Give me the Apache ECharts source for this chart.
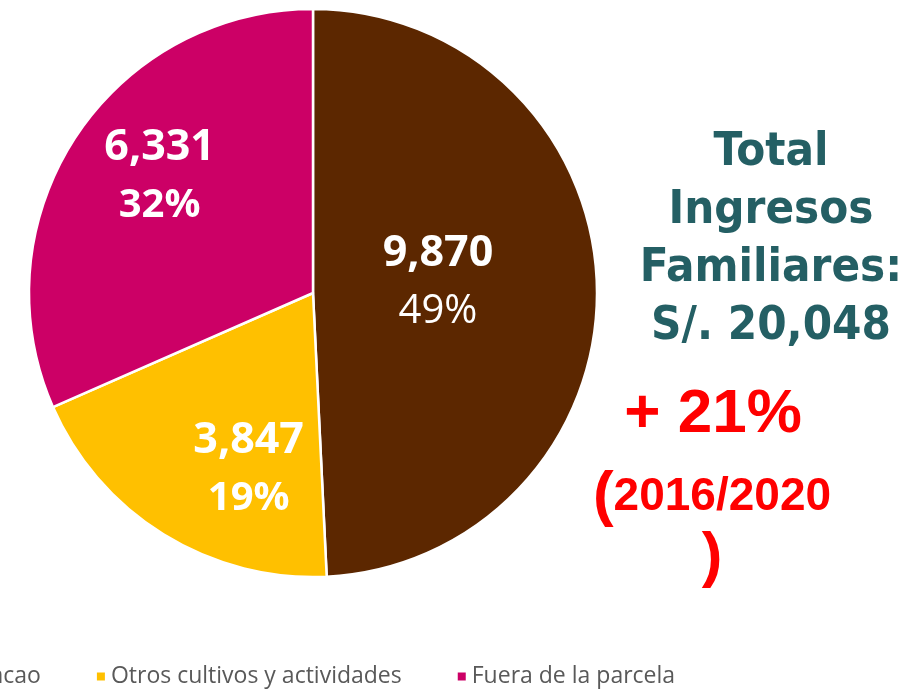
<!DOCTYPE html>
<html>
<head>
<meta charset="utf-8">
<script src="https://cdn.jsdelivr.net/npm/echarts@6/dist/echarts.min.js"></script>
<style>
  html, body { margin: 0; padding: 0; background: #fff; }
  #pieChart { width: 919px; height: 690px; }
</style>
</head>
<body>
<div id="pieChart"></div>
<script>
// datos del gráfico
const categories = ["Cacao", "Otros cultivos y actividades", "Fuera de la parcela"];
const ingresos = [9870, 3847, 6331];
const totalText = ["Total", "Ingresos", "Familiares:", "S/. 20,048"];
const variacion = "+ 21%";
const periodo = "2016/2020";

const colores = ["#5C2700", "#FFC000", "#CC0066"];
// pequeño ajuste de las etiquetas dentro de cada porción
const labelShift = [[-20, -7], [12, 53], [-32, -37]];

let myChart = echarts.init(document.getElementById("pieChart"));

function richLabel(pctWeight) {
  return {
    v: { color: "#fff", fontFamily: "Open Sans", fontSize: 43, fontWeight: "bold", lineHeight: 58 },
    p: { color: "#fff", fontFamily: "Open Sans", fontSize: 40, fontWeight: pctWeight, lineHeight: 58 }
  };
}

let option = {
  animation: false,
  color: colores,
  legend: {
    data: categories,
    bottom: -3,
    left: -45,
    icon: "rect",
    itemWidth: 10,
    itemHeight: 10,
    itemGap: 54,
    textStyle: {
      color: "#595959",
      fontSize: 23,
      fontFamily: "Open Sans"
    }
  },
  series: [
    {
      name: "Ingresos",
      type: "pie",
      center: [313, 293],
      radius: 284,
      startAngle: 90,
      itemStyle: {
        borderColor: "#fff",
        borderWidth: 2.5
      },
      labelLine: { show: false },
      label: {
        show: true,
        position: "inside",
        color: "#fff",
        fontFamily: "Open Sans",
        formatter: function (p) {
          return "{v|" + p.value.toLocaleString("en-US") + "}\n{p|" + Math.round(p.percent) + "%}";
        },
        rich: richLabel("bold")
      },
      labelLayout: function (params) {
        const s = labelShift[params.dataIndex];
        return { dx: s[0], dy: s[1] };
      },
      data: categories.map(function (c, i) {
        let item = { name: c, value: ingresos[i] };
        if (i === 0) {
          item.label = { rich: richLabel("normal") };
        }
        return item;
      })
    }
  ],
  graphic: [
    {
      type: "text",
      x: 771,
      y: 124,
      style: {
        text: totalText.join("\n"),
        textAlign: "center",
        fill: "#245F64",
        font: "bold 47px 'DejaVu Sans Condensed', 'DejaVu Sans'",
        lineHeight: 58
      }
    },
    {
      type: "text",
      x: 713,
      y: 415,
      style: {
        text: variacion,
        textAlign: "center",
        textVerticalAlign: "middle",
        fill: "#FF0000",
        font: "bold 62px 'Liberation Sans'"
      }
    },
    {
      type: "text",
      x: 712,
      y: 497,
      style: {
        text: "{a|(}{b|" + periodo + "}",
        textAlign: "center",
        textVerticalAlign: "middle",
        fill: "#FF0000",
        rich: {
          a: { fill: "#FF0000", font: "bold 62px 'Liberation Sans'" },
          b: { fill: "#FF0000", font: "bold 46px 'Liberation Sans'" }
        }
      }
    },
    {
      type: "text",
      x: 712,
      y: 558,
      style: {
        text: ")",
        textAlign: "center",
        textVerticalAlign: "middle",
        fill: "#FF0000",
        font: "bold 62px 'Liberation Sans'"
      }
    }
  ]
};

myChart.setOption(option);
</script>
</body>
</html>
